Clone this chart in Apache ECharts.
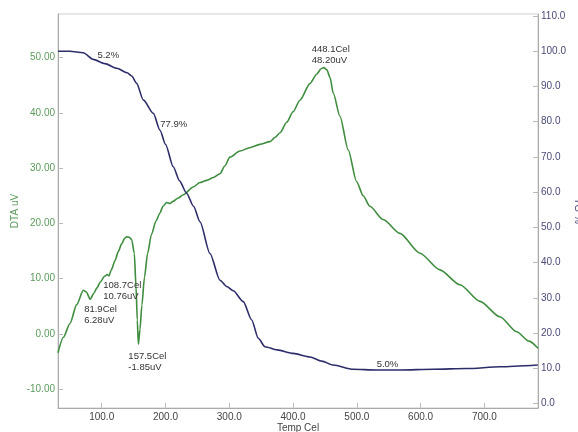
<!DOCTYPE html>
<html>
<head>
<meta charset="utf-8">
<script src="https://cdn.jsdelivr.net/npm/echarts@6/dist/echarts.min.js"></script>
<style>
  html, body { margin: 0; padding: 0; background: #fff; }
  #chart { width: 578px; height: 432px; }
</style>
</head>
<body>
<div id="chart"></div>
<script>
// Temperature (Cel) and DTA signal (uV)
const dtaTemp = [31.5, 40, 50.3, 60.8, 71.2, 76, 81.9, 88, 92.2, 98, 104, 108.7, 111.5, 115, 121, 126, 131.3, 136, 139.2, 143, 147, 151.1, 153.8, 155.8, 157.5, 160, 163, 167, 172, 178, 185, 191.4, 196, 201.8, 207, 212, 220, 228, 243.6, 254, 264.6, 275, 285.4, 293, 301, 316.8, 332, 348, 363.8, 372, 379.5, 390, 400, 410.8, 426.5, 437, 444, 448.1, 453, 458, 463, 473.5, 486.5, 499.5, 510, 520.4, 541.3, 567.5, 598.9, 630.2, 661.6, 693, 724.3, 750.5, 770, 784];
const dtaValue = [-3.4, -0.6, 1.9, 5.3, 7.9, 7.6, 6.28, 7.4, 8.3, 9.4, 10.4, 10.76, 10.5, 11.6, 13.3, 14.9, 16.3, 17.3, 17.6, 17.5, 17.1, 14.6, 8.6, 2.5, -1.85, 0.8, 5.2, 10.2, 14.6, 18.0, 20.4, 21.9, 23.1, 23.8, 23.6, 24.0, 24.6, 25.2, 26.6, 27.4, 27.8, 28.3, 29.0, 30.4, 32.0, 33.1, 33.7, 34.3, 34.8, 35.6, 36.4, 38.3, 40.2, 42.3, 45.3, 47.0, 48.0, 48.20, 47.8, 46.4, 43.6, 39.4, 33.3, 27.6, 25.0, 23.1, 20.7, 18.2, 14.6, 11.6, 8.9, 5.9, 3.1, 0.4, -1.3, -2.6];

// Temperature (Cel) and TG mass (%)
const tgTemp = [31.5, 50, 71.2, 86.8, 105, 123.5, 140, 147, 154.8, 165.2, 180.9, 191.4, 200, 212.2, 222, 233.1, 244, 254.1, 269.7, 285.4, 296, 306.3, 322, 335.1, 345.5, 356, 375, 400.3, 426.5, 445, 463, 494.3, 530, 567.5, 620, 672, 724.3, 783.7];
const tgValue = [100.0, 100.0, 99.6, 97.7, 96.5, 95.2, 93.9, 93.0, 90.9, 86.2, 82.4, 77.6, 73.6, 67.2, 63.2, 59.7, 56.0, 51.6, 42.6, 35.0, 33.2, 32.0, 28.9, 23.7, 18.5, 16.1, 15.2, 14.2, 13.2, 12.0, 10.9, 9.7, 9.5, 9.5, 9.7, 9.9, 10.4, 10.9];

// Labelled DTA extrema: [temperature, signal]
const dtaPeaks = [[81.9, 6.28], [108.7, 10.76], [157.5, -1.85], [448.1, 48.20]];
// Mass-loss step annotations
const tgSteps = ['5.2%', '77.9%', '5.0%'];

// Tick values
const xTicks = [100, 200, 300, 400, 500, 600, 700];
const dtaTicks = [-10, 0, 10, 20, 30, 40, 50];
const tgTicks = [0, 10, 20, 30, 40, 50, 60, 70, 80, 90, 100, 110];

const FONT = 'Liberation Sans, Arial, sans-serif';
const GREEN = '#3f8d3f';
const NAVY = '#2d2d6b';

const dtaData = dtaTemp.map((t, i) => [t, dtaValue[i]]);
const tgData = tgTemp.map((t, i) => [t, tgValue[i]]);

// label offsets for each extremum annotation
const peakOffsets = [[-6, 5], [-4, 5.5], [-10, 7], [-12, -24]];

const chart = echarts.init(document.getElementById('chart'), null, { renderer: 'canvas' });

chart.setOption({
  animation: false,
  backgroundColor: '#fff',
  textStyle: { fontFamily: FONT },
  grid: {
    left: 58, right: 40, top: 14, bottom: 24,
    outerBoundsMode: 'none', containLabel: false,
    show: true, borderColor: '#cfcfcf', borderWidth: 1, backgroundColor: 'transparent'
  },
  xAxis: {
    type: 'value', min: 31.5, max: 784,
    name: 'Temp Cel', nameLocation: 'middle', nameGap: 15, nameMoveOverlap: false,
    nameTextStyle: { color: '#444', fontSize: 10, fontFamily: FONT },
    axisLine: { show: true, onZero: false, lineStyle: { color: '#aaa' } },
    axisTick: { show: true, inside: true, length: 5, customValues: xTicks, lineStyle: { color: '#bbb' } },
    axisLabel: { customValues: xTicks, color: '#444', fontSize: 10, margin: 4, fontFamily: FONT,
      formatter: v => v.toFixed(1) },
    splitLine: { show: false }
  },
  yAxis: [
    {
      type: 'value', min: -13.4, max: 57.9, position: 'left',
      name: 'DTA uV', nameLocation: 'middle', nameGap: 38, nameRotate: 90, nameMoveOverlap: false,
      nameTextStyle: { color: '#5c9a5c', fontSize: 10, fontFamily: FONT },
      axisLine: { show: true, onZero: false, lineStyle: { color: '#aaa' } },
      axisTick: { show: true, inside: true, length: 5, customValues: dtaTicks, lineStyle: { color: '#bbb' } },
      axisLabel: { customValues: dtaTicks, color: '#5c9a5c', fontSize: 10, margin: 3, fontFamily: FONT,
        formatter: v => v.toFixed(2) },
      splitLine: { show: false }
    },
    {
      type: 'value', min: -1.3, max: 110.6, position: 'right',
      name: 'TG %', nameLocation: 'middle', nameGap: 35, nameRotate: -90, nameMoveOverlap: false,
      nameTextStyle: { color: '#4a4a7a', fontSize: 10, fontFamily: FONT },
      axisLine: { show: true, onZero: false, lineStyle: { color: '#aaa' } },
      axisTick: { show: true, inside: true, length: 5, customValues: tgTicks, lineStyle: { color: '#bbb' } },
      axisLabel: { customValues: tgTicks, color: '#4a4a7a', fontSize: 10, margin: 3, fontFamily: FONT,
        formatter: v => v.toFixed(1) },
      splitLine: { show: false }
    }
  ],
  series: [
    {
      name: 'DTA', type: 'line', yAxisIndex: 0, data: dtaData,
      showSymbol: false, smooth: 0.25, smoothMonotone: 'x',
      lineStyle: { color: GREEN, width: 1.6 }, itemStyle: { color: GREEN },
      markPoint: {
        symbol: 'circle', symbolSize: 0, silent: true,
        data: dtaPeaks.map((p, i) => ({
          coord: p,
          label: {
            show: true, position: 'inside', align: 'left', verticalAlign: 'top',
            offset: peakOffsets[i], color: '#333', fontSize: 9.5, lineHeight: 11, fontFamily: FONT,
            formatter: () => p[0].toFixed(1) + 'Cel\n' + p[1].toFixed(2) + 'uV'
          }
        }))
      }
    },
    {
      name: 'TG', type: 'line', yAxisIndex: 1, data: tgData,
      showSymbol: false, smooth: 0.25, smoothMonotone: 'x',
      lineStyle: { color: NAVY, width: 1.6 }, itemStyle: { color: NAVY },
      markPoint: {
        symbol: 'circle', symbolSize: 0, silent: true,
        data: [[110.3, 98.9], [213, 79.3], [548, 11.2]].map((c, i) => ({
          coord: c,
          label: {
            show: true, position: 'inside', align: 'center', verticalAlign: 'middle',
            color: '#333', fontSize: 9.5, fontFamily: FONT, formatter: () => tgSteps[i]
          }
        }))
      }
    }
  ]
});
</script>
</body>
</html>
